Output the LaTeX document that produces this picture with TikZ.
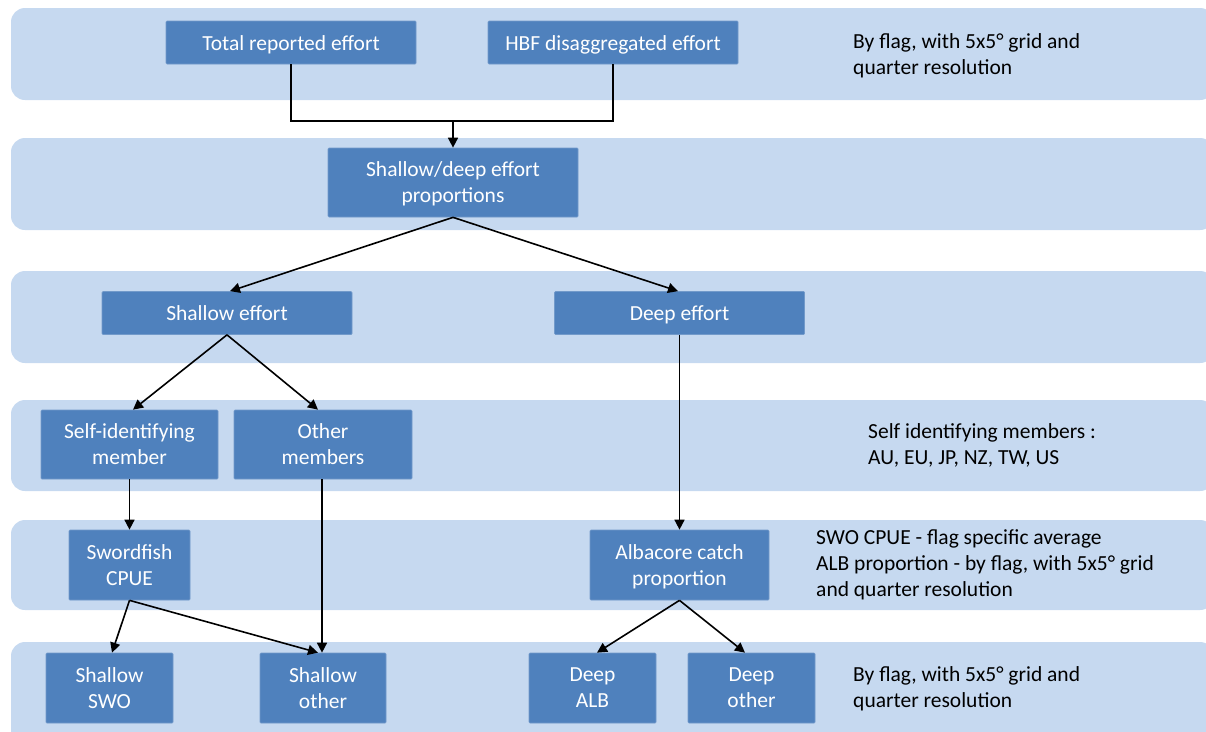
\documentclass[tikz,border=0pt]{standalone}
\usepackage{fontspec}
\setmainfont{Carlito}
\usetikzlibrary{arrows.meta}
\definecolor{bandblue}{RGB}{198,217,240}
\definecolor{boxblue}{RGB}{79,129,189}
\begin{document}
\begin{tikzpicture}[x=1pt,y=-1pt,
  band/.style={fill=bandblue, rounded corners=14pt},
  box/.style={fill=boxblue, draw=boxblue!80!white, line width=0.7pt, text=white, align=center, inner sep=0pt, rounded corners=1pt, font=\fontsize{21.5}{26}\selectfont},
  oneline/.style={box, minimum height=43pt, execute at begin node={\rule{0pt}{20pt}}, execute at end node={\rule[-5pt]{0pt}{5pt}}},
  twoline/.style={box, text depth=0pt},
  note/.style={anchor=west, align=left, inner sep=0pt, text=black, font=\fontsize{21.5}{26}\selectfont},
  conn/.style={line width=1.6pt, draw=black},
  arr/.style={conn, -{Triangle[width=10pt,length=10pt]}}]
\useasboundingbox (0,0) rectangle (1206,731);
\begin{scope}
  \clip (0,0) rectangle (1206,731);
  \fill[band] (11,8) rectangle (1214,100);
  \fill[band] (11,138) rectangle (1214,230);
  \fill[band] (11,271) rectangle (1214,363);
  \fill[band] (11,400) rectangle (1214,491);
  \fill[band] (11,520) rectangle (1214,610);
  \fill[band] (11,642) rectangle (1214,760);
\end{scope}

% nodes
\node[oneline, minimum width=250pt] (tre) at (291,42.5) {Total reported effort};
\node[oneline, minimum width=250pt] (hbf) at (613,42.5) {HBF disaggregated effort};
\node[twoline, minimum width=250pt, minimum height=69pt] (sdp) at (453,182.5) {Shallow/deep effort\\proportions};
\node[oneline, minimum width=250pt] (shal) at (227,313) {Shallow effort};
\node[oneline, minimum width=250pt] (deep) at (679.5,313) {Deep effort};
\node[twoline, minimum width=177pt, minimum height=69pt] (self) at (129.5,444.5) {Self-identifying\\member};
\node[twoline, minimum width=178pt, minimum height=69pt] (oth) at (323,444.5) {Other\\members};
\node[twoline, minimum width=121pt, minimum height=70pt] (swo) at (129.5,565) {Swordfish\\CPUE};
\node[twoline, minimum width=179pt, minimum height=70pt] (alb) at (679.5,565) {Albacore catch\\proportion};
\node[twoline, minimum width=127pt, minimum height=70pt] (sswo) at (109.5,688) {Shallow\\SWO};
\node[twoline, minimum width=126pt, minimum height=70pt] (soth) at (323,688) {Shallow\\other};
\node[twoline, minimum width=127pt, minimum height=70pt] (dalb) at (592.5,688) {Deep\\ALB};
\node[twoline, minimum width=127pt, minimum height=70pt] (doth) at (751.5,688) {Deep\\other};

% notes
\node[note] (n1) at (853,56) {By flag, with 5x5° grid and\\quarter resolution};
\node[note] (n4) at (868,445.5) {Self identifying members :\\AU, EU, JP, NZ, TW, US};
\node[note] (n5) at (816,565) {SWO CPUE - flag specific average\\ALB proportion - by flag, with 5x5° grid\\and quarter resolution};
\node[note] (n6) at (853,689) {By flag, with 5x5° grid and\\quarter resolution};

% connectors
\coordinate (merge) at (453,121);
\draw[conn] (tre.south) |- (merge) -| (hbf.south);
\draw[arr] (merge) -- (sdp.north);
\draw[arr] (sdp.south) -- ([xshift=3pt]shal.north);
\draw[arr] (sdp.south) -- ([xshift=-1.5pt]deep.north);
\draw[arr] (shal.south) -- ([xshift=3.5pt]self.north);
\draw[arr] (shal.south) -- ([xshift=-5pt]oth.north);
\draw[arr] (deep.south) -- (alb.north);
\draw[arr] (self.south) -- (swo.north);
\draw[arr] ([xshift=-1pt]oth.south) -- ([xshift=-1pt]soth.north);
\draw[arr] (swo.south) -- ([xshift=2.5pt]sswo.north);
\draw[arr] (swo.south) -- ([xshift=-5pt]soth.north);
\draw[arr] (alb.south) -- ([xshift=4.5pt]dalb.north);
\draw[arr] (alb.south) -- ([xshift=-6.5pt]doth.north);
\end{tikzpicture}
\end{document}
